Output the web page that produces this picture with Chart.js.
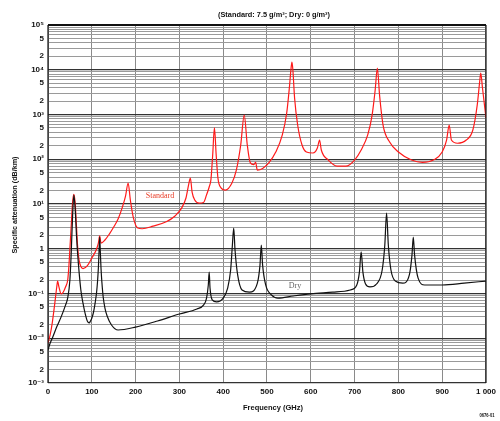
<!DOCTYPE html>
<html>
<head>
<meta charset="utf-8">
<script src="https://cdn.jsdelivr.net/npm/chart.js@4/dist/chart.umd.min.js"></script>
<style>
  html, body { margin: 0; padding: 0; background: #fff; }
  #wrap { width: 500px; height: 421px; position: relative; }
</style>
</head>
<body>
<div id="wrap"><canvas id="c" width="500" height="421"></canvas></div>
<script>
// Specific attenuation (dB/km) versus frequency (GHz)
const stdFreq = [0, 5, 10, 15, 20, 22, 25, 30, 35, 40, 45, 48, 50, 53, 56, 59, 62, 65, 68, 71, 75, 80, 90, 100, 110, 115, 118, 121, 130, 140, 150, 160, 170, 177, 183, 188, 195, 205, 215, 240, 270, 290, 305, 315, 321, 325, 329, 335, 345, 355, 362, 368, 372, 376, 380, 384, 388, 395, 405, 420, 430, 440, 448, 455, 462, 470, 474, 478, 490, 505, 520, 535, 545, 551, 555, 557, 559, 563, 570, 580, 590, 605, 615, 620, 624, 640, 660, 680, 700, 715, 730, 740, 747, 752, 757, 765, 780, 800, 830, 855, 880, 900, 910, 916, 921, 935, 955, 970, 980, 986, 988, 992, 1000];
const stdAtt = [0.0078, 0.012, 0.023, 0.055, 0.14, 0.19, 0.14, 0.098, 0.108, 0.14, 0.2, 0.45, 1.0, 3.2, 10.5, 16.5, 10.5, 3.2, 1.0, 0.55, 0.4, 0.36, 0.42, 0.62, 0.94, 1.34, 1.93, 1.34, 1.57, 2.13, 3.06, 4.6, 8.6, 15, 29.5, 12.3, 4.9, 2.9, 2.8, 3.2, 4.0, 5.4, 8.1, 13.6, 26.6, 38, 18.5, 12.3, 10.5, 10.8, 16, 24, 35, 124, 500, 124, 38, 23, 20.5, 29.5, 57, 208, 970, 208, 83, 76, 85, 57, 62, 85, 145, 350, 1080, 3900, 10900, 14900, 10100, 2340, 582, 208, 145, 138, 178, 269, 161, 96, 70.5, 70, 96, 161, 350, 970, 3520, 10900, 2730, 582, 243, 145, 96, 85, 96, 145, 269, 582, 269, 228, 269, 450, 1630, 5900, 8450, 3900, 835];

const dryFreq = [0, 5, 10, 20, 30, 40, 45, 50, 53, 56, 59, 62, 65, 68, 71, 75, 80, 85, 90, 94, 97, 100, 104, 108, 111, 113, 115, 116.5, 118, 119.5, 121, 123, 126, 130, 135, 145, 160, 200, 250, 300, 340, 355, 362, 366, 368, 370, 375, 385, 400, 410, 417, 421, 424, 427, 433, 443, 460, 478, 484, 487, 490, 497, 510, 525, 560, 600, 650, 690, 705, 711, 715, 719, 725, 735, 750, 763, 769, 773, 777, 783, 793, 810, 825, 831, 834, 837, 845, 860, 900, 950, 1000];
const dryAtt = [0.0055, 0.0078, 0.0101, 0.018, 0.03, 0.055, 0.08, 0.2, 0.8, 5, 15.9, 8, 2.0, 0.7, 0.3, 0.12, 0.06, 0.035, 0.024, 0.022, 0.0243, 0.028, 0.0386, 0.065, 0.108, 0.181, 0.372, 0.845, 1.83, 0.845, 0.372, 0.181, 0.0835, 0.0474, 0.0314, 0.0198, 0.0153, 0.0178, 0.0243, 0.0348, 0.045, 0.055, 0.079, 0.155, 0.30, 0.13, 0.072, 0.065, 0.079, 0.13, 0.335, 1.21, 2.9, 0.94, 0.26, 0.12, 0.107, 0.17, 0.43, 1.21, 0.43, 0.155, 0.093, 0.079, 0.088, 0.098, 0.107, 0.12, 0.155, 0.30, 0.85, 0.30, 0.163, 0.14, 0.163, 0.335, 1.21, 6.3, 1.21, 0.335, 0.19, 0.17, 0.26, 0.72, 1.83, 0.72, 0.22, 0.155, 0.155, 0.17, 0.19];

const freqTicks = [0, 100, 200, 300, 400, 500, 600, 700, 800, 900, 1000];
const freqTickLabels = ['0', '100', '200', '300', '400', '500', '600', '700', '800', '900', '1 000'];
const decadeExponents = [-3, -2, -1, 0, 1, 2, 3, 4, 5];
const decadeLabels = ['10⁻³', '10⁻²', '10⁻¹', '1', '10¹', '10²', '10³', '10⁴', '10⁵'];
const minorLabelMantissas = [2, 5];

const pairs = (xs, ys) => xs.map((x, i) => ({ x: x, y: ys[i] }));

const FONT = "'Liberation Sans Narrow', 'Liberation Sans', 'DejaVu Sans', sans-serif";

function mantissaOf(v) {
  const e = Math.floor(Math.log10(v) + 1e-9);
  return { m: Math.round(v / Math.pow(10, e)), e: e };
}

const textPlugin = {
  id: 'figureText',
  afterDraw(chart) {
    const ctx = chart.ctx;
    const a = chart.chartArea;
    ctx.save();
    // plot frame
    ctx.strokeStyle = '#111';
    ctx.lineWidth = 2;
    ctx.beginPath();
    ctx.moveTo(a.left, a.top); ctx.lineTo(a.right, a.top);
    ctx.stroke();
    ctx.lineWidth = 1.2;
    ctx.beginPath();
    ctx.moveTo(a.left, a.top); ctx.lineTo(a.left, a.bottom);
    ctx.moveTo(a.right, a.top); ctx.lineTo(a.right, a.bottom);
    ctx.stroke();

    ctx.fillStyle = '#111';
    ctx.textAlign = 'center';
    ctx.textBaseline = 'middle';
    ctx.font = 'bold 8px ' + FONT;
    ctx.fillText('(Standard: 7.5 g/m³; Dry: 0 g/m³)', 274, 15, 112);
    ctx.fillText('Frequency (GHz)', 273, 408, 60);

    ctx.save();
    ctx.translate(15, 205);
    ctx.rotate(-Math.PI / 2);
    ctx.fillText('Specific attenuation (dB/km)', 0, 0, 97);
    ctx.restore();

    ctx.font = 'bold 5px ' + FONT;
    ctx.fillText('0676-01', 487, 416, 15);

    ctx.font = "8px 'Liberation Serif', serif";
    ctx.fillStyle = '#e8402a';
    ctx.fillText('Standard', 160, 196);
    ctx.fillStyle = '#666';
    ctx.fillText('Dry', 295, 286);
    ctx.restore();
  }
};

new Chart(document.getElementById('c'), {
  type: 'scatter',
  data: {
    datasets: [
      {
        label: 'Standard',
        data: pairs(stdFreq, stdAtt),
        showLine: true,
        borderColor: '#ff1a1a',
        borderWidth: 1.2,
        pointRadius: 0,
        cubicInterpolationMode: 'monotone',
        order: 2
      },
      {
        label: 'Dry',
        data: pairs(dryFreq, dryAtt),
        showLine: true,
        borderColor: '#111',
        borderWidth: 1.2,
        pointRadius: 0,
        cubicInterpolationMode: 'monotone',
        order: 1
      }
    ]
  },
  options: {
    responsive: false,
    animation: false,
    devicePixelRatio: 1,
    layout: { padding: { top: 25, right: 4, bottom: 0, left: 0 } },
    plugins: {
      legend: { display: false },
      tooltip: { enabled: false },
      title: { display: false }
    },
    scales: {
      x: {
        type: 'linear',
        min: 0,
        max: 1000,
        afterBuildTicks(scale) { scale.ticks = freqTicks.map(v => ({ value: v })); },
        afterFit(scale) { scale.height = 38; },
        border: { display: false },
        grid: { color: '#8a8a8a', lineWidth: 1, drawTicks: false },
        ticks: {
          autoSkip: false,
          maxRotation: 0,
          padding: 4,
          color: '#111',
          font: { family: FONT, size: 8, weight: 'bold' },
          callback: (v) => freqTickLabels[freqTicks.indexOf(v)]
        }
      },
      y: {
        type: 'logarithmic',
        min: 1e-3,
        max: 1e5,
        afterBuildTicks(scale) {
          const t = [];
          decadeExponents.forEach(e => {
            for (let m = 1; m <= 9; m++) {
              if (e === 5 && m > 1) break;
              t.push({ value: m * Math.pow(10, e) });
            }
          });
          scale.ticks = t;
        },
        afterFit(scale) { scale.width = 48; },
        border: { display: false },
        grid: {
          drawTicks: false,
          color: (c) => {
            if (!c.tick) return '#999';
            return mantissaOf(c.tick.value).m === 1 ? '#333' : '#9a9a9a';
          },
          lineWidth: (c) => (c.tick && mantissaOf(c.tick.value).m === 1 ? 1.3 : 1)
        },
        ticks: {
          autoSkip: false,
          padding: 4,
          color: '#111',
          font: { family: FONT, size: 8, weight: 'bold' },
          callback: (v) => {
            const r = mantissaOf(v);
            if (r.m === 1) return decadeLabels[decadeExponents.indexOf(r.e)];
            if (minorLabelMantissas.includes(r.m)) return String(r.m);
            return '';
          }
        }
      }
    }
  },
  plugins: [textPlugin]
});
</script>
</body>
</html>
